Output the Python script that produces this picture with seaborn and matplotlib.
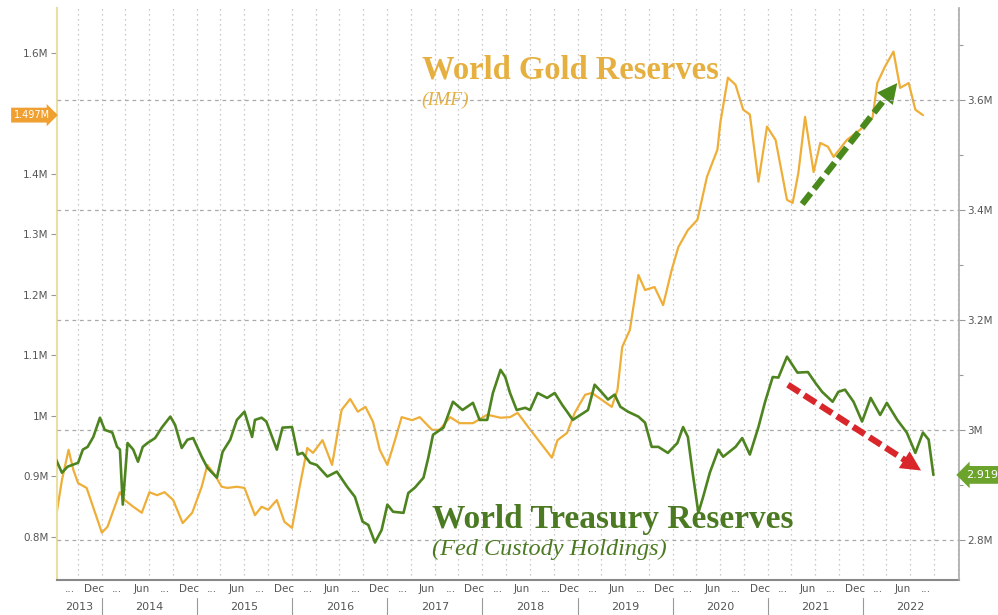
import numpy as np
import pandas as pd
import seaborn as sns
import matplotlib.pyplot as plt
import matplotlib.dates as mdates
import matplotlib.transforms as mtransforms
from matplotlib.patches import Polygon

# World gold reserves (IMF), millions, left axis -- dates as decimal years
gold_t = [2013.51, 2013.58, 2013.65, 2013.70, 2013.75, 2013.84, 2014.00, 2014.06, 2014.19, 2014.24,
          2014.33, 2014.42, 2014.50, 2014.58, 2014.66, 2014.75, 2014.85, 2014.95, 2015.05, 2015.11,
          2015.19, 2015.26, 2015.32, 2015.42, 2015.50, 2015.61, 2015.68, 2015.75, 2015.84, 2015.92,
          2016.00, 2016.08, 2016.16, 2016.22, 2016.32, 2016.42, 2016.52, 2016.61, 2016.69, 2016.77,
          2016.85, 2016.92, 2017.00, 2017.08, 2017.15, 2017.26, 2017.34, 2017.47, 2017.55, 2017.66,
          2017.76, 2017.90, 2018.05, 2018.19, 2018.29, 2018.37, 2018.48, 2018.73, 2018.79, 2018.89,
          2018.97, 2019.08, 2019.15, 2019.26, 2019.36, 2019.42, 2019.47, 2019.55, 2019.64, 2019.71,
          2019.81, 2019.90, 2019.99, 2020.06, 2020.16, 2020.26, 2020.36, 2020.47, 2020.50, 2020.58,
          2020.66, 2020.74, 2020.81, 2020.90, 2020.99, 2021.08, 2021.20, 2021.26, 2021.32, 2021.39,
          2021.48, 2021.55, 2021.63, 2021.69, 2021.83, 2021.97, 2022.10, 2022.15, 2022.23, 2022.32,
          2022.39, 2022.48, 2022.55, 2022.63]
gold_v = [0.825, 0.894, 0.944, 0.911, 0.889, 0.881, 0.807, 0.817, 0.874, 0.861,
          0.850, 0.840, 0.874, 0.869, 0.874, 0.861, 0.823, 0.840, 0.883, 0.919,
          0.902, 0.883, 0.881, 0.883, 0.881, 0.836, 0.850, 0.845, 0.861, 0.825,
          0.815, 0.883, 0.947, 0.939, 0.960, 0.919, 1.010, 1.028, 1.007, 1.015,
          0.990, 0.944, 0.919, 0.960, 0.998, 0.993, 0.998, 0.977, 0.977, 0.998,
          0.988, 0.988, 1.002, 0.997, 0.998, 1.005, 0.982, 0.931, 0.960, 0.972,
          1.005, 1.035, 1.038, 1.026, 1.015, 1.043, 1.114, 1.142, 1.233, 1.208,
          1.213, 1.183, 1.241, 1.279, 1.307, 1.324, 1.395, 1.440, 1.484, 1.559,
          1.547, 1.506, 1.498, 1.387, 1.478, 1.456, 1.357, 1.352, 1.402, 1.494,
          1.403, 1.451, 1.445, 1.428, 1.456, 1.473, 1.493, 1.550, 1.577, 1.602,
          1.542, 1.550, 1.506, 1.497]

# World treasury reserves (Fed custody holdings), millions, right axis
tsy_t = [2013.51, 2013.58, 2013.64, 2013.75, 2013.80, 2013.85, 2013.91, 2013.98, 2014.03, 2014.11,
         2014.16, 2014.19, 2014.22, 2014.27, 2014.33, 2014.38, 2014.43, 2014.48, 2014.56, 2014.63,
         2014.72, 2014.77, 2014.84, 2014.90, 2014.96, 2015.05, 2015.11, 2015.21, 2015.27, 2015.35,
         2015.42, 2015.50, 2015.58, 2015.61, 2015.68, 2015.73, 2015.84, 2015.90, 2016.00, 2016.06,
         2016.11, 2016.19, 2016.26, 2016.37, 2016.47, 2016.58, 2016.66, 2016.74, 2016.80, 2016.87,
         2016.94, 2017.00, 2017.06, 2017.17, 2017.22, 2017.29, 2017.38, 2017.43, 2017.48, 2017.59,
         2017.69, 2017.79, 2017.90, 2017.97, 2018.05, 2018.11, 2018.19, 2018.24, 2018.29, 2018.36,
         2018.45, 2018.50, 2018.58, 2018.68, 2018.76, 2018.84, 2018.89, 2018.95, 2019.03, 2019.11,
         2019.18, 2019.26, 2019.32, 2019.39, 2019.45, 2019.53, 2019.64, 2019.71, 2019.78, 2019.85,
         2019.95, 2020.05, 2020.11, 2020.16, 2020.21, 2020.27, 2020.32, 2020.39, 2020.48, 2020.53,
         2020.66, 2020.73, 2020.81, 2020.90, 2020.97, 2021.05, 2021.11, 2021.20, 2021.31, 2021.42,
         2021.50, 2021.57, 2021.68, 2021.74, 2021.81, 2021.90, 2021.99, 2022.08, 2022.18, 2022.25,
         2022.36, 2022.46, 2022.55, 2022.63, 2022.69, 2022.74]
tsy_v = [2.949, 2.922, 2.933, 2.940, 2.964, 2.969, 2.987, 3.022, 3.000, 2.995,
         2.969, 2.964, 2.864, 2.976, 2.964, 2.942, 2.969, 2.976, 2.985, 3.004,
         3.024, 3.009, 2.967, 2.982, 2.985, 2.951, 2.931, 2.913, 2.960, 2.982,
         3.018, 3.033, 2.987, 3.018, 3.022, 3.015, 2.964, 3.004, 3.005, 2.955,
         2.958, 2.940, 2.936, 2.915, 2.924, 2.896, 2.878, 2.833, 2.827, 2.795,
         2.818, 2.864, 2.851, 2.849, 2.885, 2.895, 2.913, 2.949, 2.991, 3.004,
         3.051, 3.036, 3.049, 3.018, 3.018, 3.067, 3.109, 3.096, 3.067, 3.036,
         3.040, 3.036, 3.067, 3.058, 3.067, 3.045, 3.033, 3.018, 3.027, 3.036,
         3.082, 3.067, 3.055, 3.064, 3.042, 3.033, 3.024, 3.013, 2.969, 2.969,
         2.958, 2.976, 3.005, 2.987, 2.922, 2.849, 2.878, 2.922, 2.964, 2.951,
         2.969, 2.985, 2.955, 3.005, 3.051, 3.096, 3.095, 3.133, 3.104, 3.105,
         3.085, 3.069, 3.051, 3.069, 3.073, 3.051, 3.015, 3.058, 3.027, 3.049,
         3.018, 2.995, 2.958, 2.995, 2.982, 2.918]

left_ticks = [0.8, 0.9, 1.0, 1.1, 1.2, 1.3, 1.4, 1.5, 1.6]
left_labels = ['0.8M', '0.9M', '1M', '1.1M', '1.2M', '1.3M', '1.4M', '', '1.6M']
right_ticks = [2.8, 3.0, 3.2, 3.4, 3.6]
right_labels = ['2.8M', '3M', '3.2M', '3.4M', '3.6M']
years = list(range(2013, 2023))


def to_date(y):
    yr = int(np.floor(y))
    start = pd.Timestamp(f'{yr}-01-01')
    end = pd.Timestamp(f'{yr + 1}-01-01')
    return start + (end - start) * (y - yr)


def dashed_arrow(a, start, end, color, head_len=20, head_w=10):
    # dashed shaft + solid triangular head, head built in pixel space
    p0 = a.transData.transform((mdates.date2num(to_date(start[0])), start[1]))
    p1 = a.transData.transform((mdates.date2num(to_date(end[0])), end[1]))
    d = (p1 - p0) / np.hypot(*(p1 - p0))
    n = np.array([-d[1], d[0]])
    base = p1 - d * head_len
    inv = a.transData.inverted()
    s0, s1 = inv.transform(p0), inv.transform(base + d * 2)
    a.plot([s0[0], s1[0]], [s0[1], s1[1]], color=color, lw=4.5, dashes=(2.2, 0.9),
           solid_capstyle='butt', zorder=5)
    tri = inv.transform(np.array([p1, base + n * head_w, base - n * head_w]))
    a.add_patch(Polygon(tri, closed=True, fc=color, ec='none', zorder=6))


gold = pd.DataFrame({'date': [to_date(t) for t in gold_t], 'value': gold_v})
tsy = pd.DataFrame({'date': [to_date(t) for t in tsy_t], 'value': tsy_v})

sns.set_style('white')
GOLD = '#EEAE38'
GREEN = '#4E8420'
GRAY = '#555555'

fig = plt.figure(figsize=(9.98, 6.15), dpi=100)
ax = fig.add_axes([0.057, 0.057, 0.904, 0.930])
ax2 = ax.twinx()

sns.lineplot(data=gold, x='date', y='value', ax=ax, color=GOLD, lw=1.6)
sns.lineplot(data=tsy, x='date', y='value', ax=ax2, color=GREEN, lw=1.9)

xmin, xmax = to_date(2013.527), to_date(2023.01)
ax.set_xlim(xmin, xmax)
ax2.set_xlim(xmin, xmax)
ax.set_ylim(0.729, 1.674)
ax2.set_ylim(2.727, 3.767)

# y axes
ax.set_yticks(left_ticks)
ax.set_yticklabels(left_labels)
ax2.set_yticks(right_ticks)
ax2.set_yticklabels(right_labels)
ax2.set_yticks([2.9, 3.1, 3.3, 3.5, 3.7], minor=True)
for a in (ax, ax2):
    a.set_xlabel('')
    a.set_ylabel('')
    a.tick_params(axis='y', which='both', length=4, width=0.8, color='#999999',
                  labelsize=7.5, labelcolor=GRAY, pad=2)
    a.spines['top'].set_visible(False)
ax2.tick_params(axis='y', which='minor', length=3)
ax.spines['left'].set_color('#E8DFA0')
ax.spines['left'].set_linewidth(1.5)
ax2.spines['left'].set_visible(False)
ax2.spines['right'].set_color('#AAAAAA')
ax2.spines['right'].set_linewidth(1.2)
ax2.spines['bottom'].set_visible(False)
ax.spines['right'].set_visible(False)
ax.spines['bottom'].set_color('#888888')
ax.spines['bottom'].set_linewidth(1.5)

# x axis: quarter gridlines, "..."/Jun/Dec labels, year row
quarters = pd.date_range('2013-10-01', '2023-01-01', freq='QS')
ax.set_xticks(quarters)
ax.set_xticklabels([''] * len(quarters))
ax.tick_params(axis='x', which='major', length=3, width=0.8, color='#888888')
mids = pd.date_range('2013-09-01', '2022-09-01', freq='3MS')
mids = [m for m in mids if m.month in (3, 6, 9, 12)]
ax.set_xticks(mids, minor=True)
ax.set_xticklabels(['Dec' if m.month == 12 else 'Jun' if m.month == 6 else '...' for m in mids],
                   minor=True)
ax.tick_params(axis='x', which='minor', length=0, labelsize=7.5, labelcolor=GRAY, pad=3)
for q in quarters:
    ax.axvline(q, color='#B8B8B8', lw=0.9, ls=(0, (1, 3)), zorder=0)
for v in right_ticks:
    ax2.axhline(v, color='#AAAAAA', lw=0.9, ls=(0, (3, 3)), zorder=0)

trans = mtransforms.blended_transform_factory(ax.transData, ax.transAxes)
for yr in years:
    a = max(pd.Timestamp(f'{yr}-01-01'), xmin)
    b = min(pd.Timestamp(f'{yr + 1}-01-01'), xmax)
    ax.text(a + (b - a) / 2, -0.047, str(yr), transform=trans, ha='center', va='center',
            fontsize=8, color=GRAY)
    if yr > 2013:
        ax.plot([a, a], [-0.032, -0.064], transform=trans, color='#999999', lw=0.8,
                clip_on=False)

# annotations
ax.text(to_date(2017.36), 1.572, 'World Gold Reserves', fontsize=23.5, fontweight='bold',
        family='Liberation Serif', color='#E6B040', va='center')
ax.text(to_date(2017.36), 1.521, '(IMF)', fontsize=14, style='italic',
        family='Liberation Serif', color='#E6B040', va='center')
ax2.text(to_date(2017.47), 2.837, 'World Treasury Reserves', fontsize=24, fontweight='bold',
         family='Liberation Serif', color='#4C7A22', va='center')
ax2.text(to_date(2017.47), 2.783, '(Fed Custody Holdings)', fontsize=17.5, style='italic',
         family='Liberation Serif', color='#4C7A22', va='center')

dashed_arrow(ax, (2021.36, 1.350), (2022.36, 1.550), '#4A8A1C')
dashed_arrow(ax2, (2021.21, 3.082), (2022.61, 2.926), '#D9262B')

# last-value badges
ax.text(-0.008, 1.497, '1.497M', transform=mtransforms.blended_transform_factory(ax.transAxes, ax.transData),
        ha='right', va='center', fontsize=7, color='white',
        bbox=dict(boxstyle='rarrow,pad=0.25', fc='#F0A030', ec='none'))
ax2.text(1.008, 2.918, '2.919', transform=mtransforms.blended_transform_factory(ax2.transAxes, ax2.transData),
         ha='left', va='center', fontsize=8, color='white', clip_on=False,
         bbox=dict(boxstyle='larrow,pad=0.35', fc='#6BA32C', ec='none'))

plt.savefig('out.png', dpi=100)
